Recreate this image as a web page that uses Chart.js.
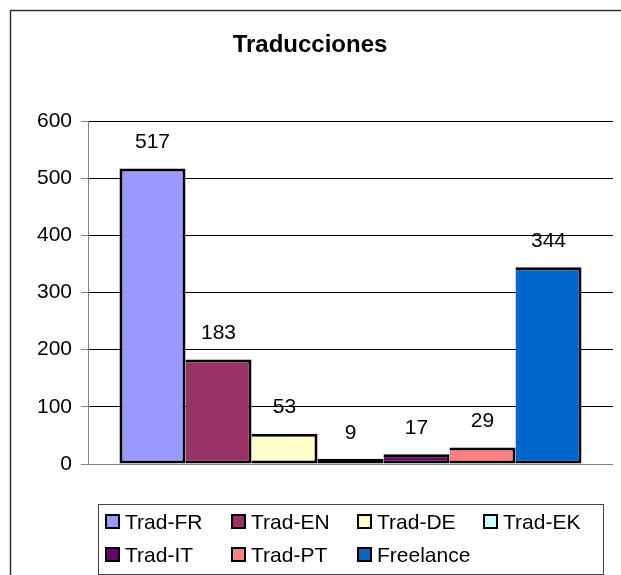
<!DOCTYPE html>
<html>
<head>
<meta charset="utf-8">
<script src="https://cdn.jsdelivr.net/npm/chart.js@4/dist/chart.umd.min.js"></script>
<style>
html,body{margin:0;padding:0;background:#fff;}
#wrap{width:621px;height:575px;position:relative;}
</style>
</head>
<body>
<div id="wrap"><canvas id="c" width="621" height="575"></canvas></div>
<script>
const chartTitle = "Traducciones";
const categories = [""];
const seriesNames = ["Trad-FR", "Trad-EN", "Trad-DE", "Trad-EK", "Trad-IT", "Trad-PT", "Freelance"];
const seriesValues = [517, 183, 53, 9, 17, 29, 344];
const seriesColors = ["#9999FF", "#993366", "#FFFFCC", "#CCFFFF", "#660066", "#FF8080", "#0066CC"];
const yTicks = [0, 100, 200, 300, 400, 500, 600];

const FONT = "'Liberation Sans', Arial, sans-serif";

const datasets = seriesNames.map((name, i) => ({
  label: name,
  data: [seriesValues[i]],
  backgroundColor: seriesColors[i],
  borderColor: "#000000",
  borderWidth: 3,
  borderSkipped: i === 0 ? false : "left"
}));

const decorPlugin = {
  id: "decor",
  beforeDraw(chart) {
    const ctx = chart.ctx;
    ctx.save();
    ctx.fillStyle = "#fff";
    ctx.fillRect(0, 0, chart.width, chart.height);
    ctx.strokeStyle = "#333";
    ctx.lineWidth = 1.5;
    ctx.strokeRect(10.5, 10.5, 640, 640);
    ctx.restore();
  },
  afterDraw(chart) {
    const ctx = chart.ctx;
    ctx.save();
    // title
    ctx.fillStyle = "#000";
    ctx.font = "bold 24px " + FONT;
    ctx.textAlign = "center";
    ctx.textBaseline = "middle";
    ctx.fillText(chartTitle, 310, 45);
    // data labels
    ctx.font = "21px " + FONT;
    chart.data.datasets.forEach((ds, i) => {
      const meta = chart.getDatasetMeta(i);
      meta.data.forEach((bar, j) => {
        ctx.fillText(String(ds.data[j]), bar.x, bar.y - 26);
      });
    });
    // legend
    ctx.strokeStyle = "#444";
    ctx.lineWidth = 1;
    ctx.strokeRect(98.5, 504.5, 505, 70);
    const cols = 4, colW = 126, x0 = 105, rowsY = [522, 555];
    ctx.textAlign = "left";
    chart.data.datasets.forEach((ds, i) => {
      const r = Math.floor(i / cols), c = i % cols;
      const x = x0 + c * colW, y = rowsY[r];
      ctx.fillStyle = ds.backgroundColor;
      ctx.fillRect(x + 1, y - 7, 13, 13);
      ctx.strokeStyle = "#000";
      ctx.lineWidth = 2;
      ctx.strokeRect(x + 1, y - 7, 13, 13);
      ctx.fillStyle = "#000";
      ctx.fillText(ds.label, x + 20, y + 1);
    });
    ctx.restore();
  }
};

new Chart(document.getElementById("c"), {
  type: "bar",
  data: { labels: categories, datasets: datasets },
  plugins: [decorPlugin],
  options: {
    responsive: false,
    animation: false,
    events: [],
    layout: { padding: { top: 121, right: 8, bottom: 111, left: 0 } },
    datasets: { bar: { categoryPercentage: 0.88, barPercentage: 1.0 } },
    plugins: {
      legend: { display: false },
      title: { display: false },
      tooltip: { enabled: false }
    },
    scales: {
      x: { display: false },
      y: {
        min: 0,
        max: 600,
        afterBuildTicks(scale) { scale.ticks = yTicks.map(v => ({ value: v })); },
        afterFit(scale) { scale.width = 88; },
        ticks: {
          color: "#000",
          padding: 9,
          font: { family: FONT, size: 21 },
          callback: (v) => String(v)
        },
        grid: {
          color: (ctx) => ctx.tick && ctx.tick.value === 0 ? "#808080" : "#000",
          tickColor: "#808080",
          tickLength: 7,
          lineWidth: 1
        },
        border: { display: true, color: "#808080", width: 1 }
      }
    }
  }
});
</script>
</body>
</html>
